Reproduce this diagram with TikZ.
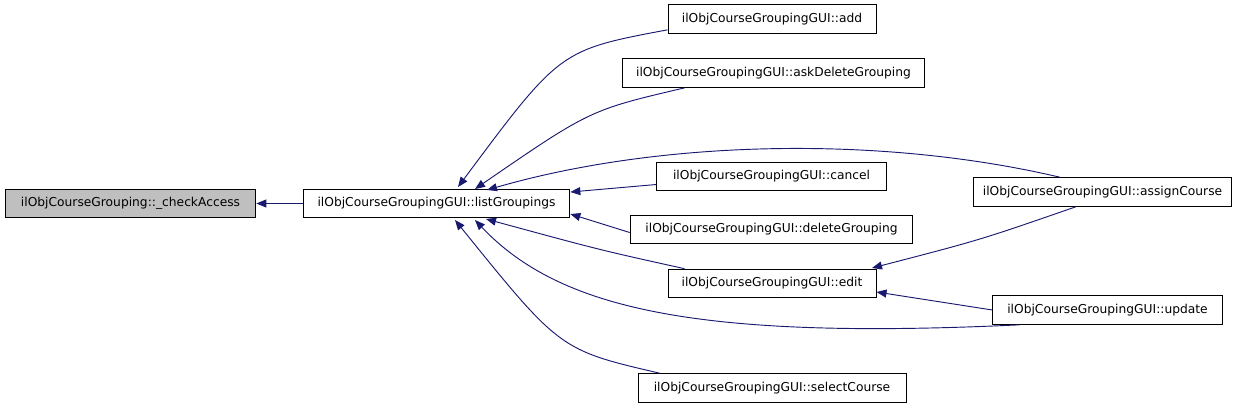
\documentclass[tikz,border=0pt]{standalone}
\usepackage{fontspec}
\setmainfont{DejaVu Sans}
\usepackage{xcolor}
\usetikzlibrary{arrows.meta}
\definecolor{edgeblue}{HTML}{191970}
\definecolor{rootgray}{HTML}{BFBFBF}
\tikzstyle{func} = [rectangle, draw=black, fill=white, minimum height=21.5pt, inner xsep=2pt, text centered, font=\fontsize{9.2}{11}\selectfont, line width=0.75pt]
\tikzstyle{root} = [func, fill=rootgray]
\tikzstyle{arrow} = [draw=edgeblue, line width=0.7pt, -{Triangle[length=7.5pt, width=6pt]}]

\begin{document}
\begin{tikzpicture}[x=0.75pt, y=-0.75pt]
\useasboundingbox (0,0) rectangle (1248,408);

% Left nodes
\node (check) [root, minimum width=188pt] at (130.5,203.5) {ilObjCourseGrouping::\_checkAccess};
\node (list) [func, minimum width=200pt] at (436.5,203.5) {ilObjCourseGroupingGUI::listGroupings};

% Middle column
\node (add) [func, minimum width=156pt] at (772,19) {ilObjCourseGroupingGUI::add};
\node (askdel) [func, minimum width=227pt] at (773.5,73) {ilObjCourseGroupingGUI::askDeleteGrouping};
\node (cancel) [func, minimum width=172pt] at (771.5,176.5) {ilObjCourseGroupingGUI::cancel};
\node (delgroup) [func, minimum width=212pt] at (771.5,229.5) {ilObjCourseGroupingGUI::deleteGrouping};
\node (edit) [func, minimum width=156pt] at (772,283.5) {ilObjCourseGroupingGUI::edit};
\node (select) [func, minimum width=201pt] at (772,388) {ilObjCourseGroupingGUI::selectCourse};

% Right column
\node (assign) [func, minimum width=194pt] at (1102.5,192) {ilObjCourseGroupingGUI::assignCourse};
\node (update) [func, minimum width=172pt] at (1107.5,310) {ilObjCourseGroupingGUI::update};

% Drawing arrows
\draw [arrow] (list) -- (check);
\draw [arrow] (add.south west) ++(0,-4) .. controls (560,50) .. (458,187);
\draw [arrow] (askdel.south west) ++(63,0) .. controls (590,110) .. (475,189);
\draw [arrow] (assign.north west) ++(87,0) .. controls (880,135) and (660,140) .. (487,190);
\draw [arrow] (cancel.west) ++(0,8) -- (list.east |- 0,192);
\draw [arrow] (delgroup.west) ++(0,3) -- (list.east |- 0,214);
\draw [arrow] (edit.north west) ++(17,0) .. controls (600,250) .. (486,219);
\draw [arrow] (update.south west) ++(27,0) .. controls (700,340) and (560,310) .. (475,220);
\draw [arrow] (select.north west) ++(22,0) .. controls (560,350) .. (455,220);
\draw [arrow] (assign.south west) ++(103,0) .. controls (980,240) .. (872,268);
\draw [arrow] (update.west) -- (edit.east |- 0,292);

\end{tikzpicture}
\end{document}
